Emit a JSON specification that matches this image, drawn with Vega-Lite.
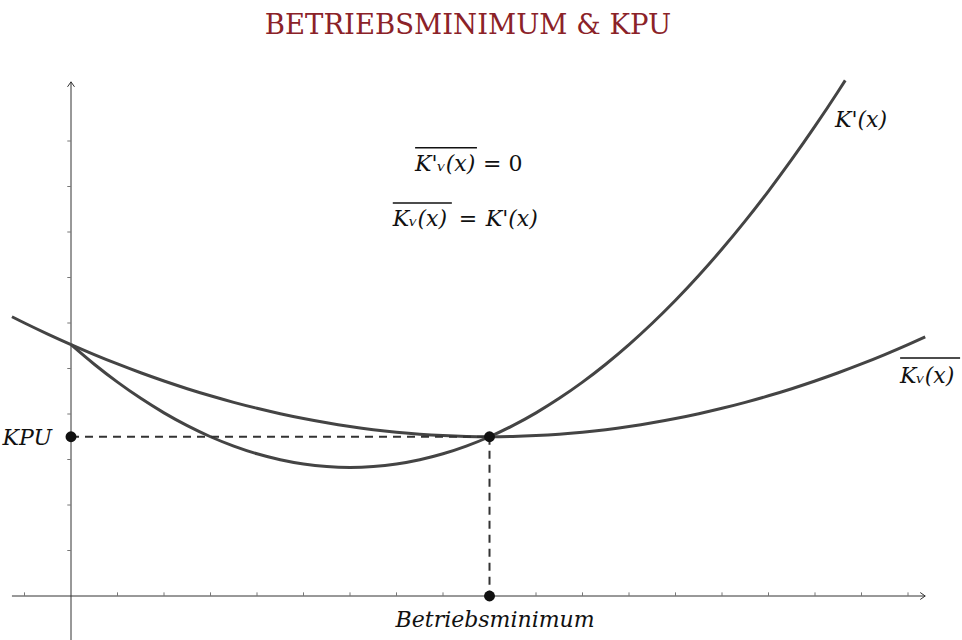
{
  "$schema": "https://vega.github.io/schema/vega-lite/v6.json",
  "width": 962,
  "height": 590,
  "autosize": "none",
  "padding": {"top": 50, "left": 0, "right": 0, "bottom": 0},
  "background": "white",
  "config": {"view": {"stroke": null}},
  "title": {
    "text": "BETRIEBSMINIMUM & KPU",
    "font": "DejaVu Serif",
    "fontSize": 27.5,
    "fontWeight": "normal",
    "color": "#8b2228",
    "anchor": "middle",
    "frame": "group",
    "baseline": "alphabetic",
    "offset": -11,
    "dx": -13
  },
  "datasets": {
    "axes": [
      {"x": -1.27, "y": 0, "x2": 18.37, "y2": 0},
      {"x": 0, "y": -0.97, "x2": 0, "y2": 11.3}
    ],
    "xticks": [
      {"x": -1, "y": 0, "y2": 0.08}, {"x": 1, "y": 0, "y2": 0.08}, {"x": 2, "y": 0, "y2": 0.08},
      {"x": 3, "y": 0, "y2": 0.08}, {"x": 4, "y": 0, "y2": 0.08}, {"x": 5, "y": 0, "y2": 0.08},
      {"x": 6, "y": 0, "y2": 0.08}, {"x": 7, "y": 0, "y2": 0.08}, {"x": 8, "y": 0, "y2": 0.08},
      {"x": 9, "y": 0, "y2": 0.08}, {"x": 10, "y": 0, "y2": 0.08}, {"x": 11, "y": 0, "y2": 0.08},
      {"x": 12, "y": 0, "y2": 0.08}, {"x": 13, "y": 0, "y2": 0.08}, {"x": 14, "y": 0, "y2": 0.08},
      {"x": 15, "y": 0, "y2": 0.08}, {"x": 16, "y": 0, "y2": 0.08}, {"x": 17, "y": 0, "y2": 0.08},
      {"x": 18, "y": 0, "y2": 0.08}
    ],
    "yticks": [
      {"x": -0.08, "x2": 0, "y": 1}, {"x": -0.08, "x2": 0, "y": 2}, {"x": -0.08, "x2": 0, "y": 3},
      {"x": -0.08, "x2": 0, "y": 4}, {"x": -0.08, "x2": 0, "y": 5}, {"x": -0.08, "x2": 0, "y": 6},
      {"x": -0.08, "x2": 0, "y": 7}, {"x": -0.08, "x2": 0, "y": 8}, {"x": -0.08, "x2": 0, "y": 9},
      {"x": -0.08, "x2": 0, "y": 10}
    ],
    "arrowRight": [{"x": 18.37, "y": 0}],
    "arrowUp": [{"x": 0, "y": 11.3}],
    "curves": [
      {"series": "K'", "x": 0, "y": 5.525}, {"series": "K'", "x": 0.5, "y": 5.094},
      {"series": "K'", "x": 1, "y": 4.7}, {"series": "K'", "x": 1.5, "y": 4.344},
      {"series": "K'", "x": 2, "y": 4.025}, {"series": "K'", "x": 2.5, "y": 3.744},
      {"series": "K'", "x": 3, "y": 3.5}, {"series": "K'", "x": 3.5, "y": 3.294},
      {"series": "K'", "x": 4, "y": 3.125}, {"series": "K'", "x": 4.5, "y": 2.994},
      {"series": "K'", "x": 5, "y": 2.9}, {"series": "K'", "x": 5.5, "y": 2.844},
      {"series": "K'", "x": 6, "y": 2.825}, {"series": "K'", "x": 6.5, "y": 2.844},
      {"series": "K'", "x": 7, "y": 2.9}, {"series": "K'", "x": 7.5, "y": 2.994},
      {"series": "K'", "x": 8, "y": 3.125}, {"series": "K'", "x": 8.5, "y": 3.294},
      {"series": "K'", "x": 9, "y": 3.5}, {"series": "K'", "x": 9.5, "y": 3.744},
      {"series": "K'", "x": 10, "y": 4.025}, {"series": "K'", "x": 10.5, "y": 4.344},
      {"series": "K'", "x": 11, "y": 4.7}, {"series": "K'", "x": 11.5, "y": 5.094},
      {"series": "K'", "x": 12, "y": 5.525}, {"series": "K'", "x": 12.5, "y": 5.994},
      {"series": "K'", "x": 13, "y": 6.5}, {"series": "K'", "x": 13.5, "y": 7.044},
      {"series": "K'", "x": 14, "y": 7.625}, {"series": "K'", "x": 14.5, "y": 8.244},
      {"series": "K'", "x": 15, "y": 8.9}, {"series": "K'", "x": 15.5, "y": 9.594},
      {"series": "K'", "x": 16, "y": 10.325}, {"series": "K'", "x": 16.5, "y": 11.094},
      {"series": "K'", "x": 16.65, "y": 11.332},
      {"series": "Kv", "x": -1.27, "y": 6.137}, {"series": "Kv", "x": -1, "y": 6.0},
      {"series": "Kv", "x": -0.5, "y": 5.756}, {"series": "Kv", "x": 0, "y": 5.525},
      {"series": "Kv", "x": 0.5, "y": 5.306}, {"series": "Kv", "x": 1, "y": 5.1},
      {"series": "Kv", "x": 1.5, "y": 4.906}, {"series": "Kv", "x": 2, "y": 4.725},
      {"series": "Kv", "x": 2.5, "y": 4.556}, {"series": "Kv", "x": 3, "y": 4.4},
      {"series": "Kv", "x": 3.5, "y": 4.256}, {"series": "Kv", "x": 4, "y": 4.125},
      {"series": "Kv", "x": 4.5, "y": 4.006}, {"series": "Kv", "x": 5, "y": 3.9},
      {"series": "Kv", "x": 5.5, "y": 3.806}, {"series": "Kv", "x": 6, "y": 3.725},
      {"series": "Kv", "x": 6.5, "y": 3.656}, {"series": "Kv", "x": 7, "y": 3.6},
      {"series": "Kv", "x": 7.5, "y": 3.556}, {"series": "Kv", "x": 8, "y": 3.525},
      {"series": "Kv", "x": 8.5, "y": 3.506}, {"series": "Kv", "x": 9, "y": 3.5},
      {"series": "Kv", "x": 9.5, "y": 3.506}, {"series": "Kv", "x": 10, "y": 3.525},
      {"series": "Kv", "x": 10.5, "y": 3.556}, {"series": "Kv", "x": 11, "y": 3.6},
      {"series": "Kv", "x": 11.5, "y": 3.656}, {"series": "Kv", "x": 12, "y": 3.725},
      {"series": "Kv", "x": 12.5, "y": 3.806}, {"series": "Kv", "x": 13, "y": 3.9},
      {"series": "Kv", "x": 13.5, "y": 4.006}, {"series": "Kv", "x": 14, "y": 4.125},
      {"series": "Kv", "x": 14.5, "y": 4.256}, {"series": "Kv", "x": 15, "y": 4.4},
      {"series": "Kv", "x": 15.5, "y": 4.556}, {"series": "Kv", "x": 16, "y": 4.725},
      {"series": "Kv", "x": 16.5, "y": 4.906}, {"series": "Kv", "x": 17, "y": 5.1},
      {"series": "Kv", "x": 17.5, "y": 5.306}, {"series": "Kv", "x": 18, "y": 5.525},
      {"series": "Kv", "x": 18.37, "y": 5.695}
    ],
    "dashed": [
      {"x": 0, "y": 3.5, "x2": 9, "y2": 3.5},
      {"x": 9, "y": 3.5, "x2": 9, "y2": 0}
    ],
    "dots": [
      {"x": 0, "y": 3.5}, {"x": 9, "y": 3.5}, {"x": 9, "y": 0}
    ],
    "italicLeft": [
      {"x": 16.43, "y": 10.31, "label": "K'(x)"},
      {"x": 17.83, "y": 4.68, "label": "Kᵥ(x)"},
      {"x": 7.40, "y": 9.34, "label": "K'ᵥ(x)"},
      {"x": 6.92, "y": 8.13, "label": "Kᵥ(x)"},
      {"x": 8.92, "y": 8.13, "label": "K'(x)"}
    ],
    "normalLeft": [
      {"x": 8.86, "y": 9.34, "label": "= 0"},
      {"x": 8.34, "y": 8.13, "label": "="}
    ],
    "italicRight": [
      {"x": -0.41, "y": 3.32, "label": "KPU"}
    ],
    "italicCenter": [
      {"x": 9.12, "y": -0.68, "label": "Betriebsminimum"}
    ],
    "overlines": [
      {"x": 7.40, "x2": 8.73, "y": 9.85},
      {"x": 6.92, "x2": 8.19, "y": 8.64},
      {"x": 17.83, "x2": 19.12, "y": 5.23}
    ]
  },
  "encoding": {
    "x": {"field": "x", "type": "quantitative", "scale": {"domain": [-1.527, 19.161], "nice": false, "zero": false}, "axis": null},
    "y": {"field": "y", "type": "quantitative", "scale": {"domain": [-0.967, 12.0], "nice": false, "zero": false}, "axis": null}
  },
  "layer": [
    {
      "data": {"name": "axes"},
      "mark": {"type": "rule", "color": "#333333", "strokeWidth": 1},
      "encoding": {"x2": {"field": "x2"}, "y2": {"field": "y2"}}
    },
    {
      "data": {"name": "xticks"},
      "mark": {"type": "rule", "color": "#777777", "strokeWidth": 1},
      "encoding": {"y2": {"field": "y2"}}
    },
    {
      "data": {"name": "yticks"},
      "mark": {"type": "rule", "color": "#777777", "strokeWidth": 1},
      "encoding": {"x2": {"field": "x2"}}
    },
    {
      "data": {"name": "arrowRight"},
      "mark": {"type": "point", "shape": "M-1,-0.7L0,0L-1,0.7", "filled": false, "size": 100, "stroke": "#333333", "strokeWidth": 1, "opacity": 1}
    },
    {
      "data": {"name": "arrowUp"},
      "mark": {"type": "point", "shape": "M-0.7,1L0,0L0.7,1", "filled": false, "size": 100, "stroke": "#333333", "strokeWidth": 1, "opacity": 1}
    },
    {
      "data": {"name": "curves"},
      "mark": {"type": "line", "color": "#444444", "strokeWidth": 3, "interpolate": "monotone"},
      "encoding": {"detail": {"field": "series"}}
    },
    {
      "data": {"name": "dashed"},
      "mark": {"type": "rule", "color": "#333333", "strokeWidth": 2, "strokeDash": [8, 6]},
      "encoding": {"x2": {"field": "x2"}, "y2": {"field": "y2"}}
    },
    {
      "data": {"name": "dots"},
      "mark": {"type": "circle", "color": "#111111", "size": 120, "opacity": 1}
    },
    {
      "data": {"name": "italicLeft"},
      "mark": {"type": "text", "font": "DejaVu Serif", "fontStyle": "italic", "fontSize": 22, "align": "left", "baseline": "alphabetic", "color": "#111111"},
      "encoding": {"text": {"field": "label"}}
    },
    {
      "data": {"name": "normalLeft"},
      "mark": {"type": "text", "font": "DejaVu Serif", "fontSize": 22, "align": "left", "baseline": "alphabetic", "color": "#111111"},
      "encoding": {"text": {"field": "label"}}
    },
    {
      "data": {"name": "italicRight"},
      "mark": {"type": "text", "font": "DejaVu Serif", "fontStyle": "italic", "fontSize": 22, "align": "right", "baseline": "alphabetic", "color": "#111111"},
      "encoding": {"text": {"field": "label"}}
    },
    {
      "data": {"name": "italicCenter"},
      "mark": {"type": "text", "font": "DejaVu Serif", "fontStyle": "italic", "fontSize": 22, "align": "center", "baseline": "alphabetic", "color": "#111111"},
      "encoding": {"text": {"field": "label"}}
    },
    {
      "data": {"name": "overlines"},
      "mark": {"type": "rule", "color": "#111111", "strokeWidth": 1.5},
      "encoding": {"x2": {"field": "x2"}}
    }
  ]
}
